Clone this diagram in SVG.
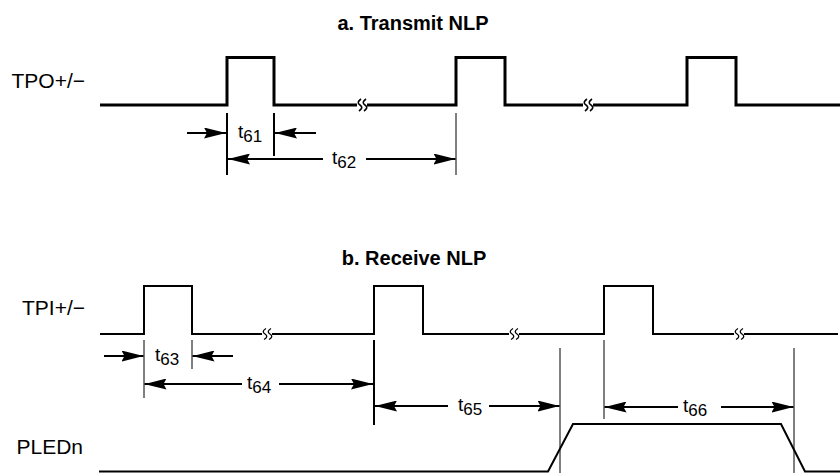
<svg xmlns="http://www.w3.org/2000/svg" width="840" height="473" viewBox="0 0 840 473">
<style>
.title{font-family:"Liberation Sans",Arial,sans-serif;font-weight:bold;font-size:20px;fill:#000;text-anchor:middle}
.lbl{font-family:"Liberation Sans",Arial,sans-serif;font-size:21px;fill:#000}
.t{font-family:"Liberation Sans",Arial,sans-serif;font-size:19px;fill:#000}
.sub{font-size:17px}
.sigA{fill:none;stroke:#000;stroke-width:3;stroke-linejoin:miter}
.sigB{fill:none;stroke:#000;stroke-width:2;stroke-linejoin:miter}
.brkA{fill:none;stroke:#000;stroke-width:1.6}
.brkB{fill:none;stroke:#000;stroke-width:1.3}
.tick{stroke:#000;stroke-width:1}
.tickB{stroke:#000;stroke-width:2}
.arr{stroke:#000;stroke-width:2;fill:none;marker-end:url(#ah)}
</style>
<defs>
<marker id="ah" viewBox="0 0 22 11" refX="22" refY="5.5" markerWidth="22" markerHeight="11" markerUnits="userSpaceOnUse" orient="auto">
<path d="M0,0 L22,5.5 L0,11 L3,5.5 z" fill="#000"/>
</marker>
<g id="brkA">
<rect x="-5" y="-2.5" width="10" height="5" fill="#fff"/>
<path class="brkA" d="M-1,-6 Q-6,-2.5 -2,0 Q2,2.5 -3,6"/>
<path class="brkA" d="M4,-6 Q-1,-2.5 3,0 Q7,2.5 2,6"/>
</g>
<g id="brkB">
<rect x="-5" y="-2" width="10" height="4" fill="#fff"/>
<path class="brkB" d="M-1,-5.5 Q-6,-2.5 -2,0 Q2,2.5 -3,5.5"/>
<path class="brkB" d="M4,-5.5 Q-1,-2.5 3,0 Q7,2.5 2,5.5"/>
</g>
</defs>

<g id="title-a"><text class="title" x="413" y="30">a. Transmit NLP</text></g>
<g id="title-b"><text class="title" x="414" y="265">b. Receive NLP</text></g>

<g id="label-tpo"><text class="lbl" x="85" y="88" text-anchor="end">TPO+/−</text></g>
<g id="label-tpi"><text class="lbl" x="85" y="315" text-anchor="end">TPI+/−</text></g>
<g id="label-pled"><text class="lbl" x="16.5" y="454">PLEDn</text></g>

<g id="signal-tpo">
<path class="sigA" d="M100,105 H227 V57.5 H274 V105 H456 V57.5 H505 V105 H687 V57.5 H736 V105 H840"/>
<use href="#brkA" x="362" y="105"/>
<use href="#brkA" x="588" y="105"/>
</g>

<g id="signal-tpi">
<path class="sigB" d="M100,334 H144 V286 H192 V334 H374 V286 H423 V334 H604 V286 H653 V334 H838"/>
<use href="#brkB" x="267" y="334"/>
<use href="#brkB" x="514" y="334"/>
<use href="#brkB" x="739" y="334"/>
</g>

<g id="signal-pled">
<path class="sigB" d="M99,471.5 H548 L573,424 H781 L805,471.5 H840"/>
</g>

<g id="connectors">
<line class="tickB" x1="227" y1="113" x2="227" y2="175"/>
<line class="tickB" x1="274" y1="113" x2="274" y2="156"/>
<line class="tick" x1="456" y1="113" x2="456" y2="175"/>
<line class="arr" x1="187" y1="133" x2="226" y2="133"/>
<line class="arr" x1="316" y1="133" x2="275" y2="133"/>
<line class="arr" x1="323" y1="159" x2="228" y2="159"/>
<line class="arr" x1="366" y1="159" x2="455.5" y2="159"/>

<line class="tick" x1="144" y1="340" x2="144" y2="398"/>
<line class="tick" x1="192" y1="340" x2="192" y2="369"/>
<line class="tickB" x1="374" y1="340" x2="374" y2="425"/>
<line class="tick" x1="560" y1="348" x2="560" y2="473"/>
<line class="tick" x1="604" y1="340" x2="604" y2="419"/>
<line class="tick" x1="794" y1="348" x2="794" y2="473"/>
<line class="arr" x1="104" y1="356" x2="143.5" y2="356"/>
<line class="arr" x1="233" y1="356" x2="192.5" y2="356"/>
<line class="arr" x1="242" y1="384" x2="144.5" y2="384"/>
<line class="arr" x1="279" y1="384" x2="373" y2="384"/>
<line class="arr" x1="448" y1="406" x2="375" y2="406"/>
<line class="arr" x1="489" y1="406" x2="559.5" y2="406"/>
<line class="arr" x1="678" y1="407" x2="604.5" y2="407"/>
<line class="arr" x1="721" y1="407" x2="793.5" y2="407"/>
</g>

<g id="timing-labels">
<text class="t" x="238" y="138">t<tspan class="sub" dy="4">61</tspan></text>
<text class="t" x="332" y="164">t<tspan class="sub" dy="4">62</tspan></text>
<text class="t" x="155" y="361">t<tspan class="sub" dy="4">63</tspan></text>
<text class="t" x="247" y="389">t<tspan class="sub" dy="4">64</tspan></text>
<text class="t" x="458" y="411">t<tspan class="sub" dy="4">65</tspan></text>
<text class="t" x="683" y="412">t<tspan class="sub" dy="4">66</tspan></text>
</g>
</svg>
